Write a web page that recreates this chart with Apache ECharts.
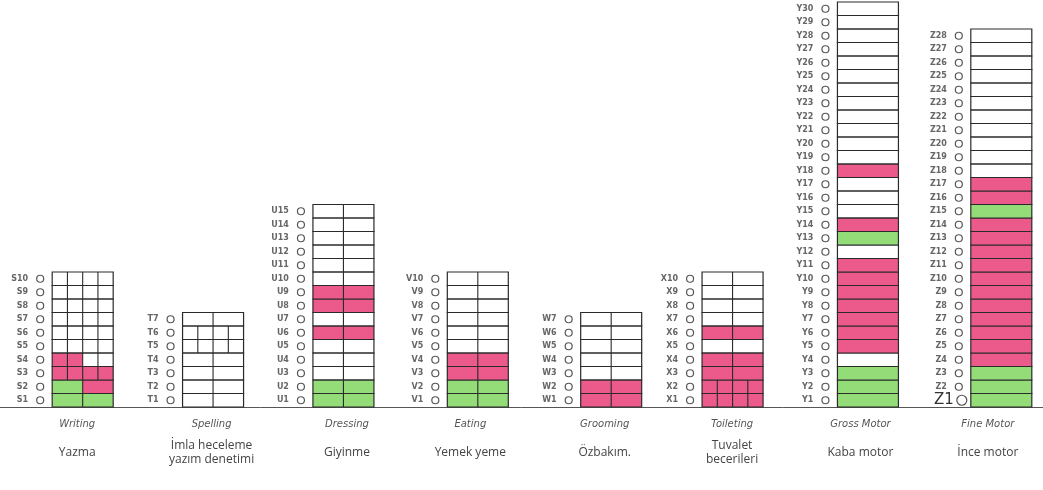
<!DOCTYPE html>
<html>
<head>
<meta charset="utf-8">
<script src="https://cdn.jsdelivr.net/npm/echarts@6/dist/echarts.min.js"></script>
<style>html,body{margin:0;padding:0;background:#fff;}#c{width:1043px;height:490px;}</style>
</head>
<body>
<div id="c"></div>
<script>
// ---- data ----
const categories = ['Writing', 'Spelling', 'Dressing', 'Eating', 'Grooming', 'Toileting', 'Gross Motor', 'Fine Motor'];
const turkishNames = ['Yazma', 'İmla heceleme\nyazım denetimi', 'Giyinme', 'Yemek yeme', 'Özbakım.', 'Tuvalet\nbecerileri', 'Kaba motor', 'İnce motor'];
const prefixes = ['S', 'T', 'U', 'V', 'W', 'X', 'Y', 'Z'];
// level status: 0 = empty, 1 = green, 2 = pink; [left, right] = split row
const writingLevels   = [1, [1, 2], 2, [2, 0], 0, 0, 0, 0, 0, 0];
const spellingLevels  = [0, 0, 0, 0, 0, 0, 0];
const dressingLevels  = [1, 1, 0, 0, 0, 2, 0, 2, 2, 0, 0, 0, 0, 0, 0];
const eatingLevels    = [1, 1, 2, 2, 0, 0, 0, 0, 0, 0];
const groomingLevels  = [2, 2, 0, 0, 0, 0, 0];
const toiletingLevels = [2, 2, 2, 2, 0, 2, 0, 0, 0, 0];
const grossMotorLevels = [1, 1, 1, 0, 2, 2, 2, 2, 2, 2, 2, 0, 1, 2, 0, 0, 0, 2, 0, 0, 0, 0, 0, 0, 0, 0, 0, 0, 0, 0];
const fineMotorLevels  = [1, 1, 1, 2, 2, 2, 2, 2, 2, 2, 2, 2, 2, 2, 1, 2, 2, 0, 0, 0, 0, 0, 0, 0, 0, 0, 0, 0];
// form structure: rows split into four sub-cells, columns split in two
const quarterRows = [[3, 4, 5, 6, 7, 8, 9, 10], [5, 6], [], [], [], [1, 2], [], []];
const halvedColumns = [true, true, true, true, true, true, false, false];

// ---- layout (px offsets of each box from its category centre) ----
const BOX_SHIFT = [-13, -13, -13, -9, -6, -15, -10, -7];
const LABEL_SHIFT = [12, 16, 21, 14, 18, 15, 13, 10];
const BOX_W = 61;

// ---- build ----
const allLevels = [writingLevels, spellingLevels, dressingLevels, eatingLevels, groomingLevels, toiletingLevels, grossMotorLevels, fineMotorLevels];
const cells = [];
allLevels.forEach((arr, ci) => {
  arr.forEach((s, i) => {
    const lr = Array.isArray(s) ? s : [s, s];
    const lvl = i + 1;
    const div = quarterRows[ci].indexOf(lvl) >= 0 ? 4 : (halvedColumns[ci] ? 2 : 1);
    cells.push([ci, lvl, lr[0], lr[1], div]);
  });
});

const FILL = ['#ffffff', '#93dc78', '#eb5a8b'];
const BORDER = '#2a2a2a';

function cellItem(params, api) {
  const ci = api.value(0), lvl = api.value(1);
  const pb = api.coord([ci, lvl - 1]);
  const pt = api.coord([ci, lvl]);
  const cx = pb[0];
  const yb = pb[1], yt = pt[1];
  const h = yb - yt;
  const x0 = cx + BOX_SHIFT[ci];
  const w = BOX_W;
  const l = api.value(2), r = api.value(3), div = api.value(4);
  const children = [];
  if (l === r) {
    if (l) children.push({ type: 'rect', shape: { x: x0, y: yt, width: w, height: h }, style: { fill: FILL[l] } });
  } else {
    if (l) children.push({ type: 'rect', shape: { x: x0, y: yt, width: w / 2, height: h }, style: { fill: FILL[l] } });
    if (r) children.push({ type: 'rect', shape: { x: x0 + w / 2, y: yt, width: w / 2, height: h }, style: { fill: FILL[r] } });
  }
  children.push({ type: 'rect', shape: { x: x0, y: yt, width: w, height: h }, style: { fill: null, stroke: BORDER, lineWidth: 1.2 } });
  for (let k = 1; k < div; k++) {
    const xx = x0 + w * k / div;
    children.push({ type: 'line', shape: { x1: xx, y1: yt, x2: xx, y2: yb }, style: { stroke: BORDER, lineWidth: 1.1 } });
  }
  const label = prefixes[ci] + lvl;
  const big = label === 'Z1';
  children.push({
    type: 'text',
    style: {
      text: label, x: x0 - (big ? 17 : 24), y: (yt + yb) / 2,
      textAlign: 'right', textVerticalAlign: 'middle',
      font: big ? '15px "DejaVu Sans"' : 'bold 8px "DejaVu Sans"', fill: big ? '#333' : '#666'
    }
  });
  children.push({
    type: 'circle',
    shape: { cx: x0 - (big ? 9 : 12), cy: (yt + yb) / 2, r: big ? 5 : 3.5 },
    style: { fill: null, stroke: '#555', lineWidth: 1.2 }
  });
  return { type: 'group', children: children };
}

function labelItem(params, api) {
  const ci = api.value(0);
  const p = api.coord([ci, 0]);
  const x = p[0] + LABEL_SHIFT[ci];
  const y0 = p[1];
  const tr = turkishNames[ci].split('\n');
  const children = [{
    type: 'text',
    style: { text: categories[ci], x: x, y: y0 + 17, textAlign: 'center', textVerticalAlign: 'middle',
      font: 'italic 10px "DejaVu Sans"', fill: '#555' }
  }];
  if (tr.length === 1) {
    children.push({ type: 'text', style: { text: tr[0], x: x, y: y0 + 46, textAlign: 'center', textVerticalAlign: 'middle',
      font: '12px "Open Sans"', fill: '#444' } });
  } else {
    children.push({ type: 'text', style: { text: tr[0], x: x, y: y0 + 39, textAlign: 'center', textVerticalAlign: 'middle',
      font: '12px "Open Sans"', fill: '#444' } });
    children.push({ type: 'text', style: { text: tr[1], x: x, y: y0 + 53, textAlign: 'center', textVerticalAlign: 'middle',
      font: '12px "Open Sans"', fill: '#444' } });
  }
  return { type: 'group', children: children };
}

const chart = echarts.init(document.getElementById('c'));
chart.setOption({
  animation: false,
  backgroundColor: '#ffffff',
  grid: { left: 0, right: 0, top: 2, bottom: 83 },
  xAxis: {
    type: 'category', data: categories, boundaryGap: true,
    axisLine: { show: true, lineStyle: { color: '#555', width: 1 } },
    axisTick: { show: false }, axisLabel: { show: false }, splitLine: { show: false }
  },
  yAxis: { type: 'value', min: 0, max: 30, show: false, splitLine: { show: false } },
  series: [
    { type: 'custom', renderItem: cellItem, data: cells, clip: false },
    { type: 'custom', renderItem: labelItem, data: categories.map((c, i) => [i]), clip: false }
  ]
});
</script>
</body>
</html>
